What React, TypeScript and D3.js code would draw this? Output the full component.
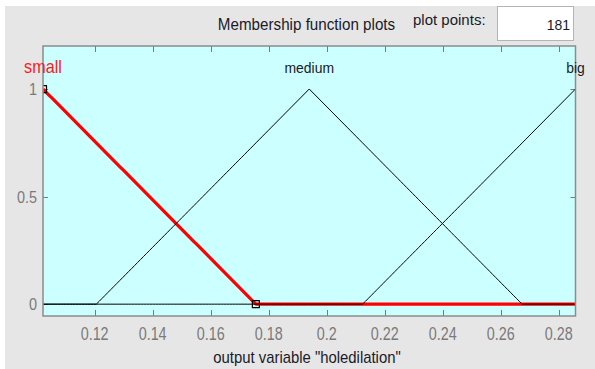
import React from "react";
import * as d3 from "d3";

// Output variable range and its three triangular membership functions
const VAR_RANGE: [number, number] = [0.1022, 0.2858];
const MF_NAMES = ["small", "medium", "big"];
const MF_PARAMS: [number, number, number][] = [
  [0.0288, 0.1022, 0.1756],
  [0.1206, 0.194, 0.2674],
  [0.2124, 0.2858, 0.3592],
];
const SELECTED_MF = 0;
const PLOT_POINTS = 181;
const X_TICKS = [0.12, 0.14, 0.16, 0.18, 0.2, 0.22, 0.24, 0.26, 0.28];
const Y_TICKS = [0, 0.5, 1];
const Y_LIMITS: [number, number] = [-0.055, 1.2];
const X_LABEL = 'output variable "holedilation"';
const TITLE = "Membership function plots";

const W = 595;
const H = 369;
const PLOT = { left: 43, right: 575.5, top: 46, bottom: 316 };
const FONT = "'Liberation Sans', Arial, Helvetica, sans-serif";

function trimf(x: number, [a, b, c]: [number, number, number]) {
  const l = b === a ? (x >= b ? 1 : 0) : (x - a) / (b - a);
  const r = c === b ? (x <= b ? 1 : 0) : (c - x) / (c - b);
  return Math.max(0, Math.min(l, r));
}

export default function App() {
  const x = d3.scaleLinear().domain(VAR_RANGE).range([PLOT.left, PLOT.right]);
  const y = d3.scaleLinear().domain(Y_LIMITS).range([PLOT.bottom, PLOT.top]);

  const xs = d3.range(PLOT_POINTS).map(
    (i) => VAR_RANGE[0] + ((VAR_RANGE[1] - VAR_RANGE[0]) * i) / (PLOT_POINTS - 1)
  );
  const line = d3
    .line<[number, number]>()
    .x((d) => x(d[0]))
    .y((d) => y(d[1]));

  const curves = MF_PARAMS.map((p) => line(xs.map((v) => [v, trimf(v, p)] as [number, number])) || "");
  const order = MF_PARAMS.map((_, i) => i);

  const tickGray = "#7a7a7a";
  const labelY = y(1.1);
  const sel = MF_PARAMS[SELECTED_MF];

  return (
    <svg
      width={W}
      height={H}
      style={{ position: "absolute", left: 0, top: 0, display: "block" }}
      fontFamily={FONT}
    >
      <defs>
        <clipPath id="plot-area">
          <rect x={PLOT.left} y={PLOT.top} width={PLOT.right - PLOT.left} height={PLOT.bottom - PLOT.top} />
        </clipPath>
      </defs>
      {/* window background */}
      <rect x={0} y={0} width={W} height={H} fill="#ffffff" />
      <rect x={5} y={6} width={W - 5} height={H - 6} fill="#e6e6e6" />

      {/* header */}
      <g transform={`translate(306.5,30) scale(0.95,1)`}>
        <text textAnchor="middle" fontSize={16} fill="#1a1a2a">
          {TITLE}
        </text>
      </g>
      <text x={413} y={25} fontSize={15} fill="#1a1a2a">
        plot points:
      </text>
      <rect x={497.5} y={6.5} width={76} height={34} fill="#ffffff" stroke="#b4b4b4" />
      <text x={570} y={30} textAnchor="end" fontSize={14} fill="#1a1a2a">
        {PLOT_POINTS}
      </text>

      {/* axes box */}
      <rect
        x={PLOT.left}
        y={PLOT.top}
        width={PLOT.right - PLOT.left}
        height={PLOT.bottom - PLOT.top}
        fill="#ccffff"
      />

      {/* ticks inside the box */}
      {X_TICKS.map((t) => (
        <g key={`xt${t}`} stroke={tickGray} strokeWidth={1}>
          <line x1={Math.round(x(t)) + 0.5} x2={Math.round(x(t)) + 0.5} y1={PLOT.top} y2={PLOT.top + 6} />
          <line x1={Math.round(x(t)) + 0.5} x2={Math.round(x(t)) + 0.5} y1={PLOT.bottom} y2={PLOT.bottom - 6} />
        </g>
      ))}
      {Y_TICKS.map((t) => (
        <g key={`yt${t}`} stroke={tickGray} strokeWidth={1}>
          <line x1={PLOT.left} x2={PLOT.left + 5} y1={Math.round(y(t)) + 0.5} y2={Math.round(y(t)) + 0.5} />
          <line x1={PLOT.right} x2={PLOT.right - 5} y1={Math.round(y(t)) + 0.5} y2={Math.round(y(t)) + 0.5} />
        </g>
      ))}

      {/* membership function curves, selected one first and thick red */}
      <g clipPath="url(#plot-area)" fill="none" strokeLinejoin="round">
        {order.map((i) =>
          i === SELECTED_MF ? (
            <path key={`c${i}`} d={curves[i]} stroke="#ff0000" strokeWidth={3.2} />
          ) : null
        )}
        {order.map((i) =>
          i !== SELECTED_MF ? (
            <path key={`c${i}`} d={curves[i]} stroke="#000000" strokeWidth={1} />
          ) : null
        )}
        {/* vertex handles of the selected function */}
        {sel.map((v, k) => {
          const vy = trimf(v, sel);
          return (
            <rect
              key={`h${k}`}
              x={x(v) - 3.5}
              y={y(vy) - 3.5}
              width={7}
              height={7}
              fill="none"
              stroke="#000000"
              strokeWidth={1.2}
            />
          );
        })}
      </g>

      {/* box border */}
      <rect
        x={PLOT.left}
        y={PLOT.top}
        width={PLOT.right - PLOT.left}
        height={PLOT.bottom - PLOT.top}
        fill="none"
        stroke="#8c8c8c"
        strokeWidth={1.5}
      />

      {/* MF names above peaks */}
      {MF_NAMES.map((name, i) => {
        const isSel = i === SELECTED_MF;
        return (
          <g key={`n${name}`} transform={`translate(${x(MF_PARAMS[i][1])},${labelY}) scale(0.9,1)`}>
            <text
              textAnchor="middle"
              dominantBaseline="central"
              fontSize={isSel ? 18 : 15.5}
              fill={isSel ? "#ff1a1a" : "#1a1a2a"}
            >
              {name}
            </text>
          </g>
        );
      })}

      {/* tick labels */}
      {X_TICKS.map((t) => (
        <g key={`xl${t}`} transform={`translate(${x(t)},340) scale(0.82,1)`}>
          <text textAnchor="middle" fontSize={17.5} fill={tickGray}>
            {String(+t.toFixed(2))}
          </text>
        </g>
      ))}
      {Y_TICKS.map((t) => (
        <g key={`yl${t}`} transform={`translate(37,${y(t) + 6.2}) scale(0.85,1)`}>
          <text textAnchor="end" fontSize={17} fill={tickGray}>
            {String(t)}
          </text>
        </g>
      ))}

      {/* axis label */}
      <g transform={`translate(307,363) scale(0.93,1)`}>
        <text textAnchor="middle" fontSize={16} fill="#1a1a2a">
          {X_LABEL}
        </text>
      </g>
    </svg>
  );
}
